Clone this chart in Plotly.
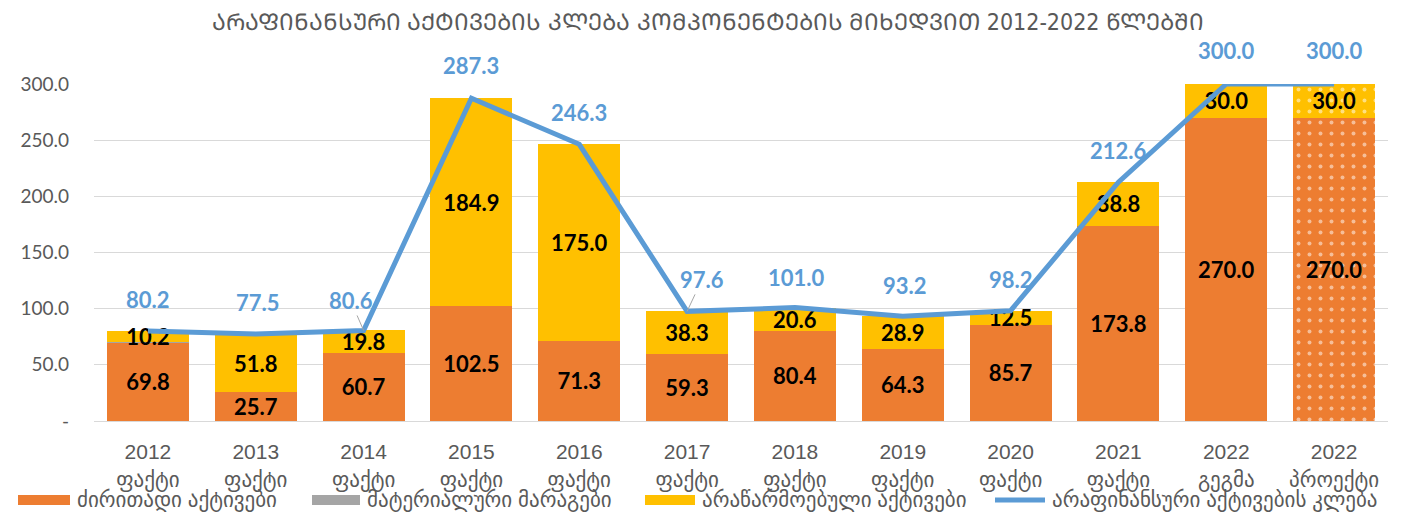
import plotly.graph_objects as go

# categories (year + status)
years = ['2012', '2013', '2014', '2015', '2016', '2017', '2018', '2019', '2020', '2021', '2022', '2022']
status = ['ფაქტი'] * 10 + ['გეგმა', 'პროექტი']
categories = [f'{y}<br>{s}' for y, s in zip(years, status)]

fixed_assets = [69.8, 25.7, 60.7, 102.5, 71.3, 59.3, 80.4, 64.3, 85.7, 173.8, 270.0, 270.0]
inventories = [0.2, 0.0, 0.1, 0.0, 0.0, 0.0, 0.0, 0.0, 0.0, 0.0, 0.0, 0.0]
nonproduced = [10.2, 51.8, 19.8, 184.9, 175.0, 38.3, 20.6, 28.9, 12.5, 38.8, 30.0, 30.0]
total_decrease = [80.2, 77.5, 80.6, 287.3, 246.3, 97.6, 101.0, 93.2, 98.2, 212.6, 300.0, 300.0]

series_names = ['ძირითადი აქტივები', 'მატერიალური მარაგები',
                'არაწარმოებული აქტივები', 'არაფინანსური აქტივების კლება']

y_ticks = [0, 50, 100, 150, 200, 250, 300]
y_tick_text = ['-', '50.0', '100.0', '150.0', '200.0', '250.0', '300.0']

# label offsets for the line values (px), leader line on two of them
label_dx = [0, 2, -13, 0, 0, 15, 2, 2, 0, 0, 0, 0]
label_dy = [-31, -31, -30, -33, -32, -32, -30, -31, -31, -32, -34, -34]
leader = [False, False, True, False, False, True, False, False, False, False, False, False]

ORANGE = '#ED7D31'
GREY = '#A5A5A5'
YELLOW = '#FFC000'
BLUE = '#5B9BD5'
TEXT = '#595959'
NUM_FONT = 'Lato, DejaVu Sans'
GEO_FONT = 'Liberation Sans, DejaVu Sans'
TITLE_FONT = 'Liberation Sans Narrow, DejaVu Sans Condensed, DejaVu Sans'
DEFAULT_CONFIG = {'displayModeBar': False}
JAVASCRIPT = "document.body.style.margin = '0';"

# plot area in pixels (used to place the hand-made legend)
PLOT_L, PLOT_R, PLOT_T, PLOT_B = 94, 1388, 84, 421


def px2x(px):
    return (px - PLOT_L) / (PLOT_R - PLOT_L)


def py2y(py):
    return (PLOT_B - py) / (PLOT_B - PLOT_T)


def mtavruli(s):
    # mkhedruli -> mtavruli (capital georgian)
    return ''.join(chr(ord(c) + 0xBC0) if 'ა' <= c <= 'ჺ' else c for c in s)


title = mtavruli('არაფინანსური აქტივების კლება კომპონენტების მიხედვით 2012-2022 წლებში')

patterns = [''] * 11 + ['.']
label_font = dict(family=NUM_FONT, size=22, color='black', weight='bold')

fig = go.Figure()

fig.add_trace(go.Bar(
    x=categories, y=fixed_assets, name=series_names[0],
    marker=dict(color=ORANGE, line_width=0,
                pattern=dict(shape=patterns, fgcolor='white', size=11, solidity=0.1)),
    text=[f'{v:.1f}' for v in fixed_assets], textposition='inside',
    insidetextanchor='middle', textangle=0, constraintext='none',
    textfont=label_font, hoverinfo='skip'
))

fig.add_trace(go.Bar(
    x=categories, y=inventories, name=series_names[1],
    marker=dict(color=GREY, line_width=0), hoverinfo='skip'
))

fig.add_trace(go.Bar(
    x=categories, y=nonproduced, name=series_names[2],
    marker=dict(color=YELLOW, line_width=0,
                pattern=dict(shape=patterns, fgcolor='white', size=11, solidity=0.1)),
    text=[f'{v:.1f}' for v in nonproduced], textposition='inside',
    insidetextanchor='middle', textangle=0, constraintext='none',
    textfont=label_font, hoverinfo='skip'
))

fig.add_trace(go.Scatter(
    x=categories, y=total_decrease, name=series_names[3],
    mode='lines', line=dict(color=BLUE, width=5), hoverinfo='skip'
))

for i, v in enumerate(total_decrease):
    fig.add_annotation(
        x=categories[i], y=v, text=f'{v:.1f}',
        showarrow=True, arrowhead=0, arrowwidth=1,
        arrowcolor='#A6A6A6' if leader[i] else 'rgba(0,0,0,0)',
        ax=label_dx[i], ay=label_dy[i],
        font=dict(family=NUM_FONT, size=22, color=BLUE, weight='bold')
    )

# legend drawn by hand so it does not push the plot area up
legend_y = py2y(500)
legend_items = [(18, 70, ORANGE, 'rect'), (312, 360, GREY, 'rect'),
                (645, 695, YELLOW, 'rect'), (995, 1045, BLUE, 'line')]
for name, (x0, x1, color, kind) in zip(series_names, legend_items):
    if kind == 'rect':
        fig.add_shape(type='rect', xref='paper', yref='paper',
                      x0=px2x(x0), x1=px2x(x1), y0=py2y(505), y1=py2y(495),
                      fillcolor=color, line_width=0)
    else:
        fig.add_shape(type='line', xref='paper', yref='paper',
                      x0=px2x(x0), x1=px2x(x1), y0=legend_y, y1=legend_y,
                      line=dict(color=color, width=5))
    fig.add_annotation(
        xref='paper', yref='paper', x=px2x(x1 + 5), y=legend_y,
        xanchor='left', yanchor='middle', showarrow=False, text=name,
        font=dict(family=GEO_FONT, size=21, color=TEXT)
    )

fig.update_layout(
    width=1416, height=515,
    barmode='stack', bargap=0.24,
    plot_bgcolor='white', paper_bgcolor='white',
    margin=dict(l=PLOT_L, r=1416 - PLOT_R, t=PLOT_T, b=515 - PLOT_B),
    title=dict(text=title, x=0.5, xanchor='center', y=0.957, yanchor='middle',
               font=dict(family=TITLE_FONT, size=23, color=TEXT)),
    uniformtext=dict(minsize=22, mode='show'),
    showlegend=False
)

fig.update_xaxes(
    showgrid=False, showline=True, linecolor='#D9D9D9', linewidth=1,
    tickfont=dict(family=GEO_FONT, size=21, color=TEXT), ticks='',
    ticklabelstandoff=12
)

fig.update_yaxes(
    range=[0, 300], tickvals=y_ticks, ticktext=y_tick_text,
    showgrid=True, gridcolor='#D9D9D9', gridwidth=1, zeroline=False,
    tickfont=dict(family=NUM_FONT, size=19, color=TEXT), ticks='',
    ticklabelstandoff=24
)

fig.write_html('out.html', config=DEFAULT_CONFIG, post_script=[JAVASCRIPT])
